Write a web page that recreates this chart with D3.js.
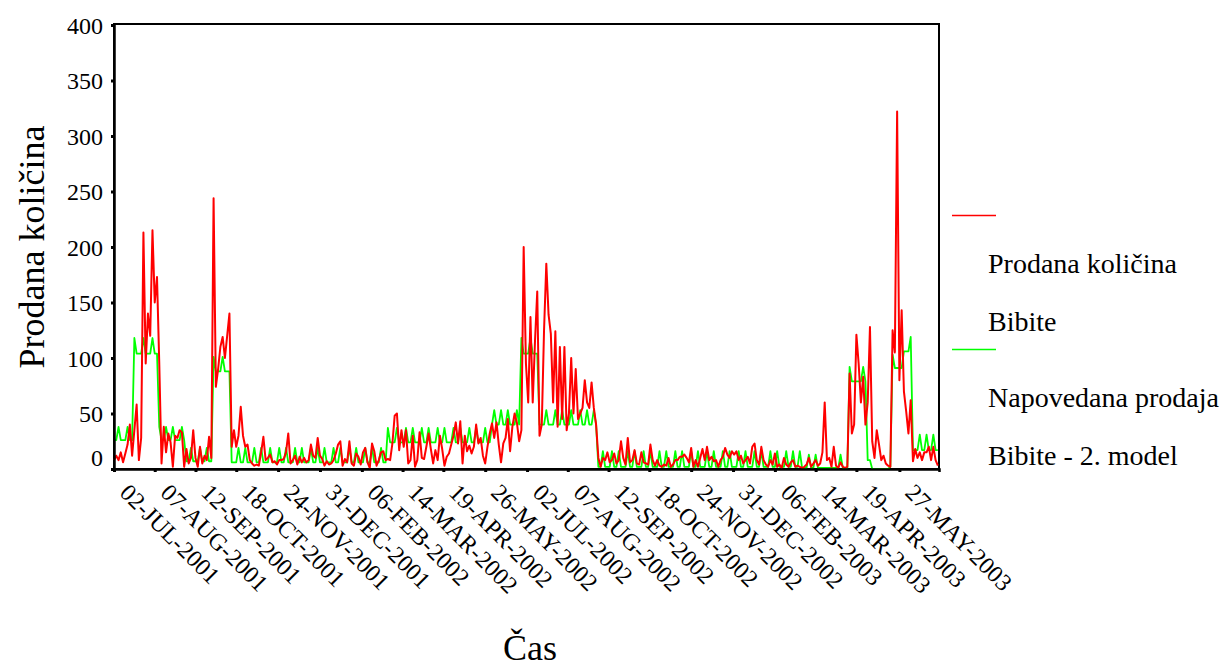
<!DOCTYPE html>
<html>
<head>
<meta charset="utf-8">
<script src="https://cdn.jsdelivr.net/npm/d3@7"></script>
<style>
  body { margin: 0; background: #fff; }
  svg { display: block; }
  svg text { font-family: 'Liberation Serif', 'Times New Roman', 'DejaVu Serif', serif !important; fill: #000; }
</style>
</head>
<body>
<div id="chart"></div>
<script>
// time axis: one value every 2 days, starting on the first tick
const startLabel = '02-JUL-2001'
const endLabel = '01-JUL-2003'
const stepDays = 2

// Prodana količina Bibite (red)
const sales2001H2 = [
  8, 12, 8, 15, 6, 14, 22, 40, 12, 35,
  58, 8, 28, 213, 95, 140, 120, 215, 150, 173,
  95, 5, 38, 15, 32, 24, 2, 30, 28, 35,
  33, 2, 18, 5, 10, 35, 10, 2, 20, 5,
  12, 8, 29, 10, 244, 74, 90, 110, 119, 100,
  120, 140, 20, 35, 20, 30, 56, 30, 20, 22,
  8, 5, 3, 4, 3, 15, 29, 8, 10, 13,
  6, 7, 4, 8, 8, 9, 15, 32, 5, 8,
  12, 4, 11, 6, 10, 6, 8, 22, 12, 10,
  28, 12,
]
const sales2002H1 = [
  9, 3, 7, 4, 5, 8, 14, 22,
  25, 3, 9, 6, 25, 5, 3, 14, 11, 4,
  15, 19, 6, 1, 23, 16, 3, 8, 15, 16,
  8, 9, 8, 23, 48, 50, 17, 35, 20, 35,
  5, 8, 30, 2, 8, 33, 10, 9, 20, 32,
  18, 5, 17, 8, 30, 18, 3, 11, 14, 22,
  30, 42, 23, 43, 5, 30, 16, 21, 14, 20,
  40, 23, 28, 12, 5, 20, 32, 41, 28, 42,
  22, 6, 23, 28, 45, 16, 38, 50, 42, 25,
  35, 200, 95,
]
const sales2002H2 = [
  60, 137, 60, 115, 160, 30, 40,
  125, 185, 139, 122, 60, 124, 38, 110, 45, 110,
  35, 50, 100, 50, 90, 45, 50, 55, 80, 60,
  55, 78, 55, 40, 10, 2, 10, 8, 15, 6,
  8, 14, 5, 8, 25, 10, 4, 28, 6, 8,
  17, 5, 4, 15, 6, 5, 4, 22, 8, 3,
  8, 3, 2, 4, 3, 10, 2, 4, 8, 8,
  11, 11, 13, 10, 6, 19, 2, 8, 2, 10,
  18, 8, 20, 8, 11, 7, 8, 2, 8, 11,
  19, 13, 10, 16,
]
const sales2003H1 = [
  13, 16, 8, 12, 5, 8,
  11, 5, 20, 23, 8, 4, 20, 8, 4, 2,
  8, 4, 14, 2, 4, 1, 10, 4, 2, 6,
  8, 2, 3, 2, 1, 2, 4, 10, 2, 5,
  8, 3, 5, 15, 60, 8, 10, 2, 20, 3,
  1, 6, 2, 1, 2, 86, 32, 40, 121, 95,
  60, 83, 40, 60, 128, 25, 10, 35, 22, 8,
  12, 5, 3, 2, 125, 105, 322, 80, 143, 70,
  52, 32, 62, 7, 18, 10, 15, 8, 15, 15,
  20, 8, 20, 8, 3,
]

// Napovedana prodaja Bibite - 2. model (green)
const forecast2001H2 = [
  26, 26, 38, 26, 26, 26, 38, 26, 26,
  118, 104, 104, 104, 118, 104, 104, 104, 118, 104, 104,
  38, 26, 26, 38, 26, 26, 38, 26, 26, 26, 38, 26,
  7, 7, 19, 7, 7, 7, 19, 7, 7, 19, 7, 7,
  101, 88, 88, 88, 101, 88, 88, 88,
  6, 6, 6, 19, 6, 6, 19, 6, 6, 6,
  19, 6, 6, 19, 6, 6, 6, 19, 6, 6,
  6, 19, 6, 6, 19, 6, 6, 6, 19, 6,
  6, 19, 6, 6, 6, 19, 6, 6, 19, 6,
]
const forecast2002H1 = [
  6, 19, 6, 6, 6, 19, 6, 6, 19, 6,
  6, 6, 19, 6, 6, 19, 6, 6, 6, 19,
  6, 6, 19, 6, 6, 6, 19, 6, 6,
  37, 24, 24, 24, 37, 24, 24, 24, 37, 24,
  24, 37, 24, 24, 24, 37, 24, 24, 37, 24,
  24, 24, 37, 24, 24, 37, 24, 24, 24, 37,
  24, 24, 37, 24, 24, 24, 37, 24, 24, 37,
  24, 24, 24, 37, 24, 24,
  40, 53, 40, 40, 53, 40, 40, 53, 40, 40, 40, 53, 40,
  118, 104, 104,
]
const forecast2002H2 = [
  104, 118, 104, 104, 104,
  40, 40, 40, 53, 40, 40, 40, 53, 40, 40,
  53, 40, 40, 40, 53, 40, 40, 40, 53, 40, 40, 53, 40, 40, 53, 40,
  2, 2, 16, 2, 2, 2, 16, 2, 2, 16,
  2, 2, 2, 16, 2, 2, 16, 2, 2, 2,
  16, 2, 2, 16, 2, 2, 2, 16, 2, 2,
  16, 2, 2, 2, 16, 2, 2, 16, 2, 2,
  2, 16, 2, 2, 16, 2, 2, 2, 16, 2,
  2, 16, 2, 2, 2, 16, 2, 2, 16, 2,
]
const forecast2003H1 = [
  2, 2, 16, 2, 2, 16, 2, 2, 2, 16,
  2, 2, 16, 2, 2, 2, 16, 2, 2, 16,
  2, 2, 2, 16, 2, 2, 16, 2, 2, 16,
  1, 1, 1, 13, 1, 1, 13, 1, 1, 1,
  1, 1, 1, 1, 1, 1, 1, 13, 1, 1, 1,
  92, 79, 79, 79, 79, 79, 92, 79,
  8, 8, 0, 0, 0, 0, 0, 0, 0, 0,
  2, 103, 91, 91, 91, 91, 106, 106, 106, 119,
  17, 17, 17, 31, 17, 17, 31, 17, 17, 31, 17, 17,
]

const tickLabels = [
  '02-JUL-2001', '07-AUG-2001', '12-SEP-2001', '18-OCT-2001', '24-NOV-2001',
  '31-DEC-2001', '06-FEB-2002', '14-MAR-2002', '19-APR-2002', '26-MAY-2002',
  '02-JUL-2002', '07-AUG-2002', '12-SEP-2002', '18-OCT-2002', '24-NOV-2002',
  '31-DEC-2002', '06-FEB-2003', '14-MAR-2003', '19-APR-2003', '27-MAY-2003',
]
const yTicks = [0, 50, 100, 150, 200, 250, 300, 350, 400]

const legendItems = [
  { color: '#ff0000', lines: ['Prodana količina', 'Bibite'] },
  { color: '#00ff00', lines: ['Napovedana prodaja', 'Bibite - 2. model'] },
]

const months = ['JAN', 'FEB', 'MAR', 'APR', 'MAY', 'JUN', 'JUL', 'AUG', 'SEP', 'OCT', 'NOV', 'DEC']
function parseLabel(s) {
  const [d, m, y] = s.split('-')
  return new Date(Date.UTC(+y, months.indexOf(m), +d))
}

makeChart()

function makeChart() {
  const width = 1232
  const height = 668
  const plot = { left: 114, right: 939, top: 25, bottom: 469 }

  const svg = d3
    .select('#chart')
    .append('svg')
    .attr('width', width)
    .attr('height', height)

  const start = parseLabel(startLabel)
  const sales = [...sales2001H2, ...sales2002H1, ...sales2002H2, ...sales2003H1]
  const forecast = [...forecast2001H2, ...forecast2002H1, ...forecast2002H2, ...forecast2003H1]
  const dateAt = i => d3.utcDay.offset(start, i * stepDays)

  const xScale = d3.scaleUtc()
    .domain([start, parseLabel(endLabel)])
    .range([plot.left, plot.right])
  const yScale = d3.scaleLinear().domain([0, 400]).range([plot.bottom, plot.top])

  // frame
  svg.append('rect')
    .attr('x', plot.left)
    .attr('y', plot.top - 1)
    .attr('width', plot.right - plot.left)
    .attr('height', plot.bottom - plot.top + 1)
    .attr('fill', 'none')
    .attr('stroke', '#000')
    .attr('stroke-width', 2)

  // series
  const line = d3.line()
    .x((d, i) => xScale(dateAt(i)))
    .y(d => yScale(d))

  svg.append('path')
    .datum(forecast)
    .attr('fill', 'none')
    .attr('stroke', '#00ff00')
    .attr('stroke-width', 1.8)
    .attr('stroke-linejoin', 'round')
    .attr('d', line)

  svg.append('path')
    .datum(sales)
    .attr('fill', 'none')
    .attr('stroke', '#ff0000')
    .attr('stroke-width', 2)
    .attr('stroke-linejoin', 'round')
    .attr('d', line)

  // y axis
  const yAxis = svg.append('g')
    .attr('transform', `translate(${plot.left}, 0)`)
    .call(d3.axisLeft(yScale).tickValues(yTicks).tickSize(3).tickPadding(8))
  yAxis.select('.domain').attr('stroke', '#000').attr('stroke-width', 2.5)
  yAxis.selectAll('.tick line').attr('stroke-width', 3)
  yAxis.selectAll('.tick text')
    .attr('font-size', 24)
    .attr('dy', d => (d === 0 ? '-0.15em' : '0.34em'))

  // x axis
  const xAxis = svg.append('g')
    .attr('transform', `translate(0, ${plot.bottom})`)
    .call(
      d3.axisBottom(xScale)
        .tickValues(tickLabels.map(parseLabel))
        .tickSize(3)
        .tickFormat((d, i) => tickLabels[i])
    )
  xAxis.select('.domain').attr('stroke', '#000').attr('stroke-width', 2.5)
  xAxis.selectAll('.tick line').attr('stroke-width', 3)
  xAxis.selectAll('.tick text')
    .attr('font-size', 24)
    .attr('text-anchor', 'start')
    .attr('x', 0)
    .attr('y', 0)
    .attr('dy', 0)
    .attr('transform', 'translate(4, 25) rotate(45)')

  // axis titles
  svg.append('text')
    .attr('transform', `translate(44, ${(plot.top + plot.bottom) / 2}) rotate(-90)`)
    .attr('text-anchor', 'middle')
    .attr('font-size', 36)
    .text('Prodana količina')

  svg.append('text')
    .attr('x', 530)
    .attr('y', 660)
    .attr('text-anchor', 'middle')
    .attr('font-size', 36)
    .text('Čas')

  // legend
  const legend = svg.append('g').attr('font-size', 28)
  legendItems.forEach((item, k) => {
    const top = 215.5 + k * 134
    legend.append('line')
      .attr('x1', 952)
      .attr('x2', 996)
      .attr('y1', top)
      .attr('y2', top)
      .attr('stroke', item.color)
      .attr('stroke-width', 1.5)
    item.lines.forEach((t, j) => {
      legend.append('text')
        .attr('x', 988)
        .attr('y', top + 57 + j * 58)
        .text(t)
    })
  })
}
</script>
</body>
</html>
